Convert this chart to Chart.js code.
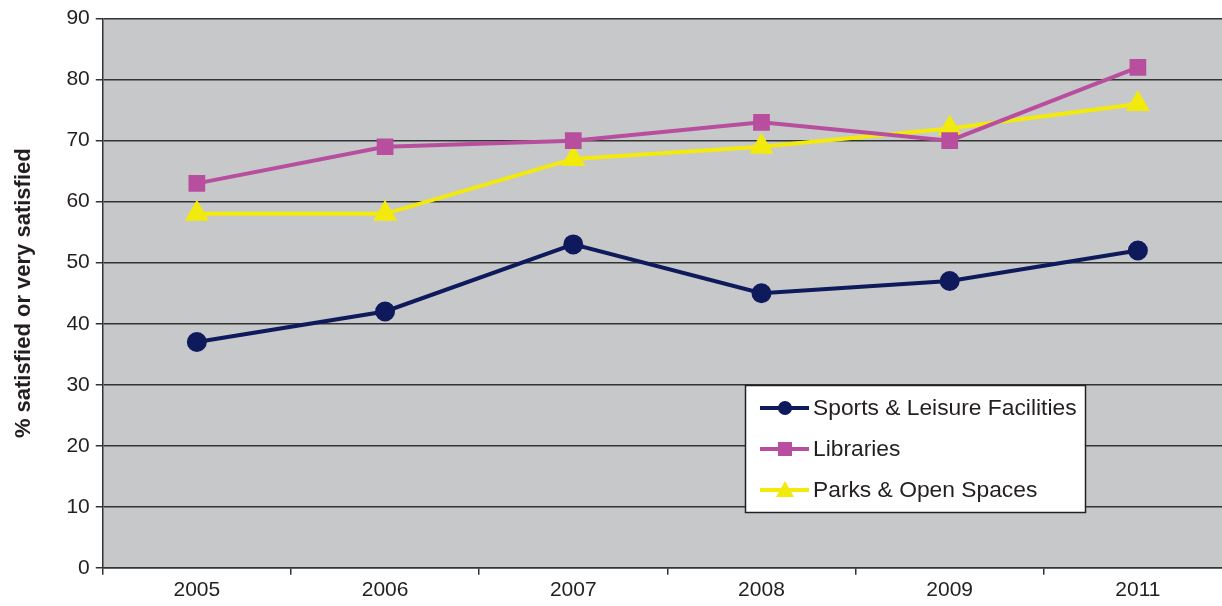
<!DOCTYPE html>
<html><head><meta charset="utf-8">
<script src="https://cdn.jsdelivr.net/npm/chart.js@4/dist/chart.umd.min.js"></script>
<style>html,body{margin:0;padding:0;background:#fff;overflow:hidden;}#wrap{width:1222px;height:606px;overflow:hidden;}</style>
</head><body><div id="wrap"><canvas id="c" width="1232" height="606"></canvas></div>
<script>
const years = ['2005','2006','2007','2008','2009','2011'];
const sports = [37, 42, 53, 45, 47, 52];
const libraries = [63, 69, 70, 73, 70, 82];
const parks = [58, 58, 67, 69, 72, 76];
const yTicks = [0,10,20,30,40,50,60,70,80,90];

const FONT = '"Liberation Sans", Arial, sans-serif';
const bgPlugin = {
  id:'bg',
  beforeDraw(chart){
    const {ctx, chartArea:a} = chart;
    ctx.save(); ctx.fillStyle='#C7C8CA'; ctx.fillRect(a.left,a.top,a.right-a.left,a.bottom-a.top); ctx.restore();
  }
};
const legendPlugin = {
  id:'boxLegend',
  afterDraw(chart){
    const ctx = chart.ctx;
    const x0=745, y0=385, w=340, h=127;
    ctx.save();
    ctx.fillStyle='#fff'; ctx.fillRect(x0,y0,w,h);
    ctx.strokeStyle='#222'; ctx.lineWidth=1.5; ctx.strokeRect(x0+0.5,y0+0.5,w,h);
    ctx.font='22.8px ' + FONT;
    ctx.textBaseline='middle';
    chart.data.datasets.forEach((ds,i)=>{
      const cy = y0+23+i*41;
      ctx.strokeStyle=ds.borderColor; ctx.lineWidth=4;
      ctx.beginPath(); ctx.moveTo(x0+15,cy); ctx.lineTo(x0+64,cy); ctx.stroke();
      ctx.fillStyle=ds.borderColor;
      const cx=x0+40;
      if(ds.pointStyle==='circle'){ctx.beginPath();ctx.arc(cx,cy,7,0,Math.PI*2);ctx.fill();}
      else if(ds.pointStyle==='rect'){ctx.fillRect(cx-7,cy-7,14,14);}
      else {ctx.beginPath();ctx.moveTo(cx,cy-9);ctx.lineTo(cx+9,cy+7);ctx.lineTo(cx-9,cy+7);ctx.closePath();ctx.fill();}
      ctx.fillStyle='#231f20';
      ctx.fillText(ds.label, x0+68, cy+1);
    });
    ctx.restore();
  }
};

new Chart(document.getElementById('c'), {
  type:'line',
  data:{labels:years, datasets:[
    {label:'Sports & Leisure Facilities', data:sports, borderColor:'#0E1A5B', backgroundColor:'#0E1A5B', borderWidth:4, pointStyle:'circle', pointRadius:8, pointHoverRadius:8, tension:0},
    {label:'Libraries', data:libraries, borderColor:'#B84F9E', backgroundColor:'#B84F9E', borderWidth:4, pointStyle:'rect', pointRadius:9, pointHoverRadius:9, tension:0},
    {label:'Parks & Open Spaces', data:parks, borderColor:'#F2EA0C', backgroundColor:'#F2EA0C', borderWidth:4, pointStyle:'triangle', pointRadius:10, pointHoverRadius:10, tension:0}
  ]},
  options:{
    responsive:false, animation:false,
    layout:{padding:{top:12,right:0,left:5,bottom:0}, autoPadding:false},
    plugins:{legend:{display:false}, tooltip:{enabled:false}},
    scales:{
      x:{
        offset:true,
        grid:{display:true, offset:true, drawOnChartArea:false, drawTicks:true, tickLength:7, color:'#333', lineWidth:1.5},
        border:{display:true, color:'#333', width:1.5},
        ticks:{color:'#231f20', font:{size:21, family:FONT}, padding:3, maxRotation:0}
      },
      y:{
        min:0, max:90,
        afterBuildTicks(s){ s.ticks = yTicks.map(v=>({value:v})); },
        grid:{color:'#333', lineWidth:1.5, tickLength:7, drawTicks:true},
        border:{display:true, color:'#333', width:1.5},
        ticks:{color:'#231f20', font:{size:21, family:FONT}, padding:6},
        title:{display:true, text:'% satisfied or very satisfied', color:'#231f20', font:{size:22, weight:'bold', family:FONT}, padding:{top:6, bottom:23}}
      }
    }
  },
  plugins:[bgPlugin, legendPlugin]
});
</script></body></html>
